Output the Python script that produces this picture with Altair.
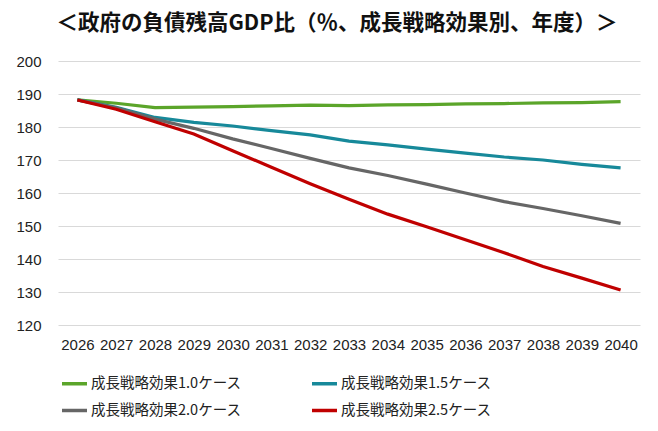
import altair as alt
import pandas as pd

years = [str(y) for y in range(2026, 2041)]
case_names = ["成長戦略効果1.0ケース", "成長戦略効果1.5ケース", "成長戦略効果2.0ケース", "成長戦略効果2.5ケース"]
case_10 = [188.2, 187.2, 185.9, 186.0, 186.2, 186.4, 186.6, 186.5, 186.7, 186.8, 187.0, 187.1, 187.3, 187.4, 187.7]
case_15 = [188.2, 186.0, 182.9, 181.4, 180.3, 178.9, 177.6, 175.7, 174.6, 173.3, 172.1, 170.9, 170.0, 168.7, 167.6]
case_20 = [188.2, 185.8, 182.4, 179.6, 176.4, 173.5, 170.5, 167.6, 165.3, 162.7, 160.0, 157.4, 155.3, 153.1, 150.8]
case_25 = [188.2, 185.4, 181.6, 177.9, 172.8, 167.8, 162.8, 158.1, 153.6, 149.8, 145.8, 141.9, 137.7, 134.2, 130.6]
colors = ["#5ba52a", "#17899a", "#666666", "#c00000"]

rows = []
for name, vals in zip(case_names, [case_10, case_15, case_20, case_25]):
    for y, v in zip(years, vals):
        rows.append({"year": y, "case": name, "value": v})
df = pd.DataFrame(rows)

# legend is filled column by column, so order the domain so rows read 1.0/1.5, 2.0/2.5
legend_order = [case_names[0], case_names[2], case_names[1], case_names[3]]
legend_colors = [colors[0], colors[2], colors[1], colors[3]]

chart = alt.Chart(df).mark_line(strokeWidth=3.2).encode(
    x=alt.X("year:O", title=None, sort=years,
            axis=alt.Axis(labelAngle=0, ticks=False, domain=False, labelFontSize=15,
                          labelColor="#222222", labelPadding=12, labelFont="Liberation Sans")),
    y=alt.Y("value:Q", title=None, scale=alt.Scale(domain=[120, 200], nice=False, zero=False),
            axis=alt.Axis(values=list(range(120, 201, 10)), ticks=False, domain=False,
                          labelFontSize=15, labelColor="#222222", labelPadding=17,
                          gridColor="#d9d9d9", gridWidth=1.2, labelFont="Liberation Sans")),
    color=alt.Color("case:N", sort=legend_order,
                    scale=alt.Scale(domain=legend_order, range=legend_colors),
                    legend=alt.Legend(title=None, orient="none", legendX=2, legendY=308,
                                      columns=2, columnPadding=63, rowPadding=5,
                                      symbolType="stroke", symbolSize=625, symbolStrokeWidth=3.5,
                                      labelFontSize=14.5, labelFont="Noto Sans CJK JP",
                                      labelColor="#222222", labelLimit=300, labelOffset=2)),
    strokeWidth=alt.StrokeWidth("case:N", sort=case_names,
                                scale=alt.Scale(domain=case_names, range=[3, 3, 3, 4]),
                                legend=None),
    order=alt.Order("case:N"),
).properties(
    width=582, height=264,
    padding={"left": 50, "top": 53, "right": 8, "bottom": 100},
    autosize=alt.AutoSizeParams(type="none"),
    title=alt.TitleParams("＜政府の負債残高GDP比（％、成長戦略効果別、年度）＞",
                          font="Noto Sans CJK JP", fontSize=21.5, fontWeight="bold",
                          color="#111111", anchor="middle", dx=-12, offset=20),
).configure_view(stroke=None)

chart.save("out.html", embed_options={"renderer": "svg", "actions": False})
